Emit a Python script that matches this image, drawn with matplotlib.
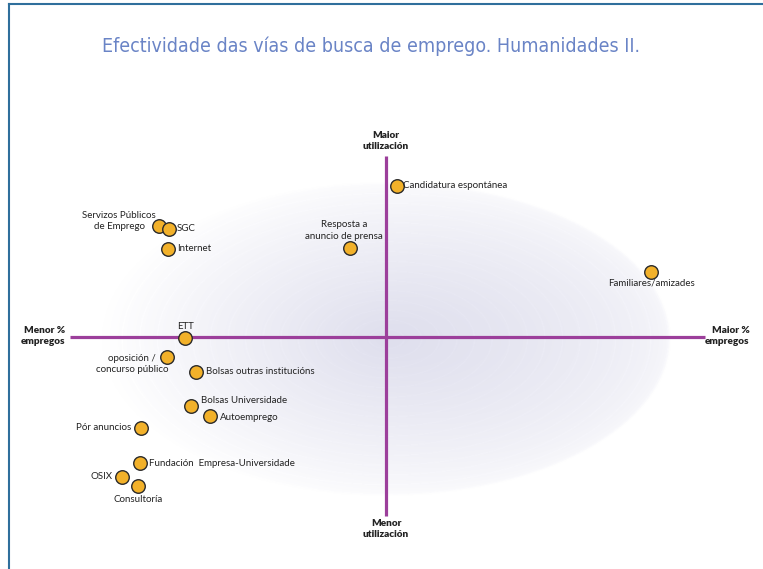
import numpy as np
import matplotlib
matplotlib.use("Agg")
import matplotlib.pyplot as plt
from matplotlib.lines import Line2D
from matplotlib import font_manager as fm

# ---------------- data ----------------
title = "Efectividade das vías de busca de emprego. Humanidades II."
labels = [
    "Candidatura espontánea",
    "Resposta a\nanuncio de prensa",
    "Familiares/amizades",
    "Servizos Públicos\nde Emprego",
    "SGC",
    "Internet",
    "ETT",
    "oposición /\nconcurso público",
    "Bolsas outras institucións",
    "Bolsas Universidade",
    "Autoemprego",
    "Pór anuncios",
    "Fundación  Empresa-Universidade",
    "OSIX",
    "Consultoría",
]
# x: % empregos (Menor -> Maior), y: utilización (Menor -> Maior)
x_empregos = [3.5, -11.4, 83.9, -71.8, -68.7, -69.0, -63.6, -69.3, -60.1, -61.7, -55.7, -77.5, -77.8, -83.5, -78.5]
y_utilizacion = [83.9, 49.4, 36.1, 61.7, 60.0, 48.9, -0.6, -11.1, -19.4, -38.3, -43.9, -50.6, -70.0, -77.8, -82.8]
axis_labels = {"top": "Maior\nutilización", "bottom": "Menor\nutilización",
               "left": "Menor %\nempregos", "right": "Maior %\nempregos"}

# ---------------- label placement (pixel offset, alignment, line spacing) ----------------
placement = [
    (6, 0, "left", "center", 1.4),
    (-6, 7, "center", "bottom", 1.4),
    (0, -6, "center", "top", 1.4),
    (-40, 5, "center", "center", 1.2),
    (8, 0, "left", "center", 1.4),
    (9, 0, "left", "center", 1.4),
    (0, 7, "center", "bottom", 1.4),
    (-35, -7, "center", "center", 1.4),
    (10, 0, "left", "center", 1.4),
    (10, 5, "left", "center", 1.4),
    (10, -1, "left", "center", 1.4),
    (-10, 1, "right", "center", 1.4),
    (9, 0, "left", "center", 1.4),
    (-10, 1, "right", "center", 1.4),
    (0, -9, "center", "top", 1.4),
]


def pick_font(cands, stretch=None):
    for fam in cands:
        try:
            kw = dict(family=fam)
            if stretch:
                kw["stretch"] = stretch
            path = fm.findfont(fm.FontProperties(**kw), fallback_to_default=False)
        except Exception:
            continue
        if stretch and "ondensed" not in path and "arrow" not in path:
            continue
        return fam, stretch
    return None, None


W, H, DPI = 763, 569, 100
fig = plt.figure(figsize=(W / DPI, H / DPI), dpi=DPI)
ax = fig.add_axes([0, 0, 1, 1])
# mapping: x = (px-386)/3.16, y = (337-py)/1.8
sx, sy = 3.16, 1.8
ax.set_xlim((0 - 386) / sx, (W - 386) / sx)
ax.set_ylim((337 - H) / sy, (337 - 0) / sy)
ax.axis("off")

# background elliptical gradient (decoration)
ecx, ecy, eax, eay = 0.0, -1.4, 89.9, 87.0
gx = np.linspace(ecx - eax, ecx + eax, 700)
gy = np.linspace(ecy - eay, ecy + eay, 450)
GX, GY = np.meshgrid(gx, gy)
t = np.sqrt(((GX - ecx) / eax) ** 2 + ((GY - ecy) / eay) ** 2)
tc = np.clip(t, 0, 1)
s_lin = np.clip((GX - (ecx - eax)) / (2 * eax), 0, 1)   # 0 at left, 1 at right
dark = 0.62 * (1 - tc) ** 0.9 + 0.38 * s_lin ** 1.3 * (1 - tc) ** 0.15
D = 30.0 * dark / 0.72
img = np.zeros(GX.shape + (4,))
img[..., 0] = (255 - D) / 255
img[..., 1] = (255 - D) / 255
img[..., 2] = (255 - D * 0.55) / 255
ring = np.abs(((t / 0.062) % 1.0) - 0.5) > 0.47
img[..., :3] = np.where(ring[..., None], np.minimum(img[..., :3] + 0.01, 1), img[..., :3])
img[..., 3] = np.clip((1 - t) / 0.008, 0, 1)
ax.imshow(img, extent=[gx[0], gx[-1], gy[0], gy[-1]], origin="lower",
          interpolation="bilinear", zorder=1, aspect="auto")

# axes cross
purple = "#9c3f9b"
ax.plot([-100, 101], [0, 0], color=purple, lw=2.3, solid_capstyle="butt", zorder=2)
ax.plot([0, 0], [-99.4, 100.5], color=purple, lw=2.3, solid_capstyle="butt", zorder=2)

font = ["Lato", "DejaVu Sans"]
bold_kw = dict(fontsize=7.2, fontweight="heavy", color="#222222", family=font, linespacing=1.3)
ax.text(0, 103.5, axis_labels["top"], ha="center", va="bottom", **bold_kw)
ax.text(0, -101.0, axis_labels["bottom"], ha="center", va="top", **bold_kw)
ax.text(-101.5, 0.5, axis_labels["left"], ha="right", va="center", multialignment="right", **bold_kw)
ax.text(108, 0.5, axis_labels["right"], ha="center", va="center", multialignment="right", **bold_kw)

# points
ax.scatter(x_empregos, y_utilizacion, s=95, color="#f2b12a", edgecolor="#2a2a2a",
           linewidth=1.0, zorder=4)
for lab, xv, yv, (dx, dy, ha, va, ls) in zip(labels, x_empregos, y_utilizacion, placement):
    ax.annotate(lab, (xv, yv), xytext=(dx * 72 / DPI, dy * 72 / DPI), textcoords="offset points",
                ha=ha, va=va, fontsize=7, color="#222222", family=font,
                multialignment="center", linespacing=ls, zorder=5)

# title, in a condensed face if one is installed, sized to the reference width
fam, stretch = pick_font(["Liberation Sans Narrow", "Arial Narrow", "DejaVu Sans", "Open Sans",
                          "Noto Sans", "Roboto"], stretch="condensed")
if fam is None:
    fam, stretch = "Lato", "normal"
ttl = fig.text(0.5 * (103 + 640) / W, 1 - 52 / H, title, ha="center", va="baseline",
               fontsize=16, color="#6a84c6", family=[fam, "DejaVu Sans"], fontstretch=stretch)
fig.canvas.draw()
wpx = ttl.get_window_extent().width
ttl.set_fontsize(16 * (640 - 103) / wpx)

# frame lines
border = "#2f6f9c"
fig.add_artist(Line2D([8.5 / W, 8.5 / W], [0, 1 - 4 / H], color=border, lw=1.5, transform=fig.transFigure))
fig.add_artist(Line2D([8.5 / W, 1], [1 - 4 / H, 1 - 4 / H], color=border, lw=1.5, transform=fig.transFigure))

fig.savefig("out.png", dpi=DPI)
